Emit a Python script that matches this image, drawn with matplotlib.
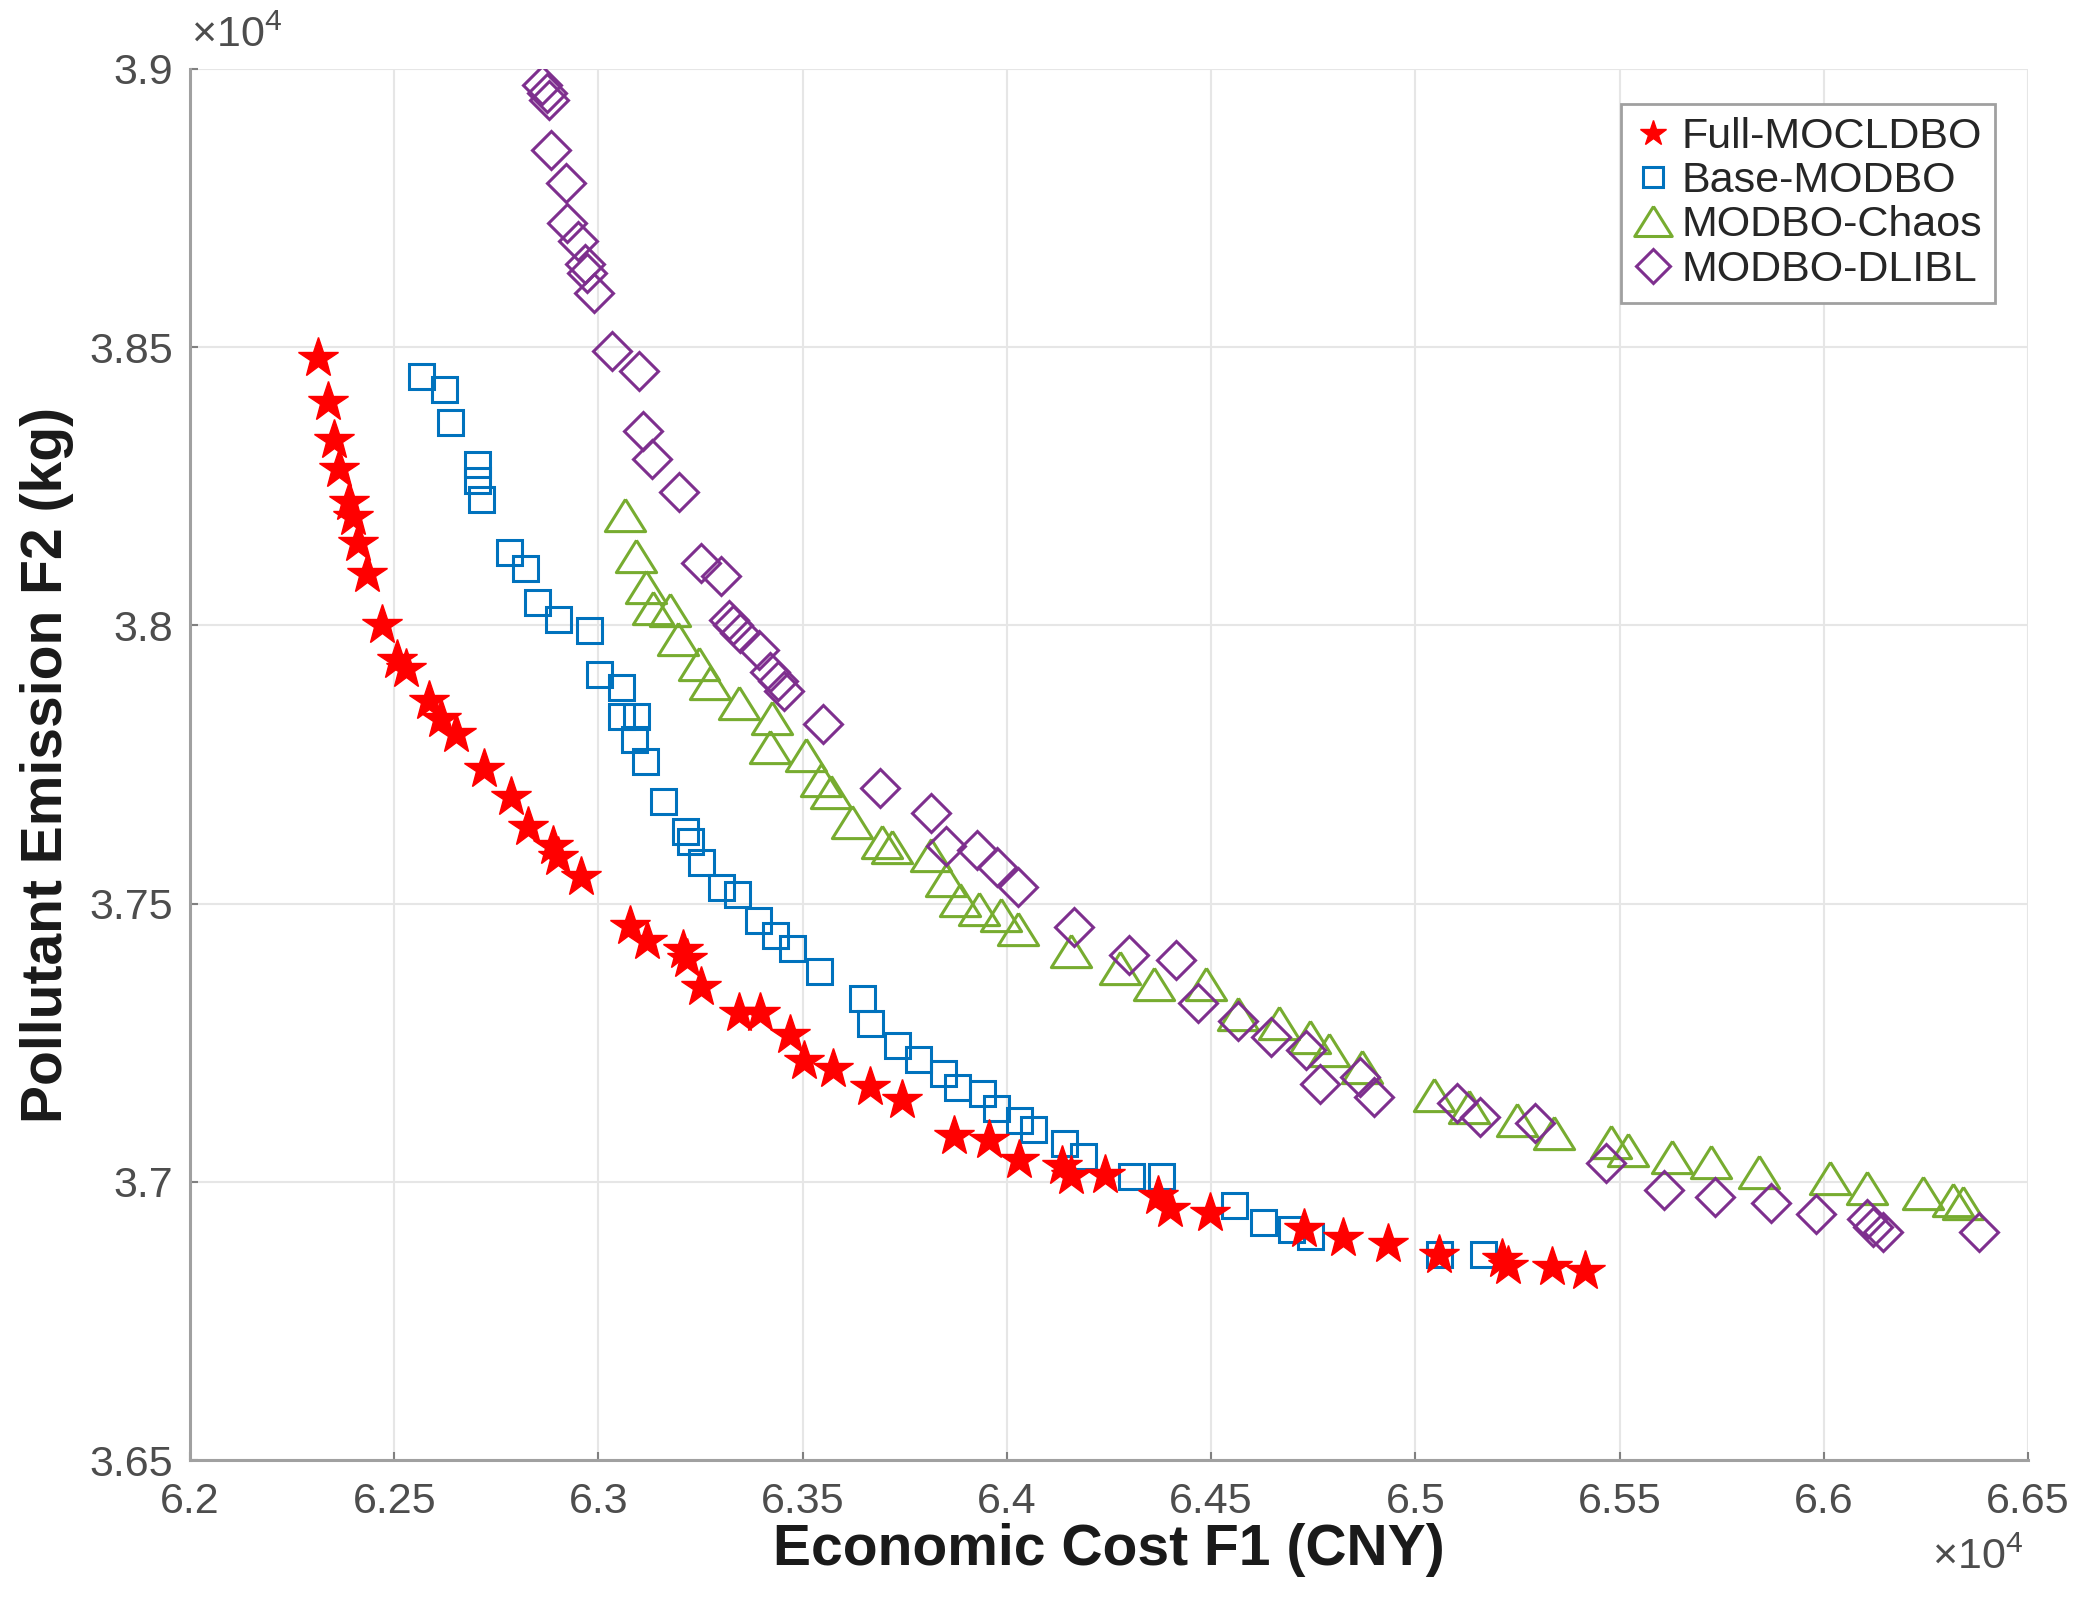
import matplotlib
matplotlib.use("Agg")
import matplotlib.pyplot as plt
from matplotlib.lines import Line2D
from matplotlib.ticker import FixedLocator, FixedFormatter

plt.rcParams["font.family"] = ["Liberation Sans", "DejaVu Sans"]
plt.rcParams["mathtext.fontset"] = "custom"
plt.rcParams["mathtext.rm"] = "Liberation Sans"
plt.rcParams["mathtext.it"] = "Liberation Sans"

# values in units of 1e4 (F1 = CNY, F2 = kg)
full_f1 = [6.2313, 6.2338, 6.2352, 6.2365, 6.2390, 6.2398, 6.2412, 6.2434, 6.2471, 6.2508,
           6.2529, 6.2586, 6.2614, 6.2651, 6.2721, 6.2786, 6.2827, 6.2888, 6.2900, 6.2958,
           6.3078, 6.3120, 6.3208, 6.3216, 6.3250, 6.3343, 6.3396, 6.3470, 6.3504, 6.3574,
           6.3665, 6.3743, 6.3870, 6.3957, 6.4030, 6.4135, 6.4157, 6.4239, 6.4370, 6.4400,
           6.4497, 6.4728, 6.4823, 6.4934, 6.5057, 6.5213, 6.5227, 6.5335, 6.5415]
full_f2 = [3.8481, 3.8401, 3.8333, 3.8281, 3.8222, 3.8195, 3.8148, 3.8092, 3.8000, 3.7937,
           3.7922, 3.7865, 3.7832, 3.7805, 3.7742, 3.7691, 3.7637, 3.7604, 3.7583, 3.7547,
           3.7460, 3.7432, 3.7416, 3.7400, 3.7350, 3.7304, 3.7304, 3.7263, 3.7218, 3.7203,
           3.7171, 3.7147, 3.7082, 3.7076, 3.7040, 3.7028, 3.7011, 3.7012, 3.6974, 3.6951,
           3.6944, 3.6915, 3.6899, 3.6889, 3.6868, 3.6862, 3.6849, 3.6846, 3.6840]

base_f1 = [6.2566, 6.2623, 6.2637, 6.2703, 6.2703, 6.2712, 6.2780, 6.2819, 6.2850, 6.2900,
           6.2978, 6.3002, 6.3056, 6.3056, 6.3092, 6.3088, 6.3113, 6.3158, 6.3211, 6.3223,
           6.3252, 6.3301, 6.3340, 6.3390, 6.3432, 6.3475, 6.3540, 6.3645, 6.3665, 6.3730,
           6.3783, 6.3843, 6.3878, 6.3939, 6.3974, 6.4030, 6.4065, 6.4139, 6.4187, 6.4304,
           6.4378, 6.4557, 6.4628, 6.4695, 6.4742, 6.5057, 6.5166]
base_f2 = [3.8449, 3.8425, 3.8365, 3.8290, 3.8262, 3.8228, 3.8132, 3.8104, 3.8042, 3.8012,
           3.7991, 3.7913, 3.7889, 3.7838, 3.7838, 3.7796, 3.7757, 3.7685, 3.7631, 3.7613,
           3.7574, 3.7529, 3.7517, 3.7470, 3.7443, 3.7420, 3.7378, 3.7330, 3.7286, 3.7245,
           3.7221, 3.7195, 3.7171, 3.7159, 3.7132, 3.7111, 3.7094, 3.7070, 3.7046, 3.7011,
           3.7011, 3.6958, 3.6927, 3.6915, 3.6903, 3.6871, 3.6871]

chaos_f1 = [6.3065, 6.3093, 6.3116, 6.3134, 6.3176, 6.3194, 6.3245, 6.3273, 6.3343, 6.3426,
            6.3421, 6.3509, 6.3546, 6.3569, 6.3620, 6.3694, 6.3718, 6.3815, 6.3852, 6.3884,
            6.3931, 6.3986, 6.4028, 6.4157, 6.4278, 6.4361, 6.4487, 6.4566, 6.4666, 6.4742,
            6.4789, 6.4870, 6.5046, 6.5131, 6.5249, 6.5340, 6.5480, 6.5520, 6.5629, 6.5725,
            6.5841, 6.6015, 6.6105, 6.6242, 6.6317, 6.6342]
chaos_f2 = [3.8198, 3.8125, 3.8069, 3.8031, 3.8028, 3.7976, 3.7931, 3.7896, 3.7861, 3.7833,
            3.7781, 3.7767, 3.7722, 3.7701, 3.7646, 3.7611, 3.7601, 3.7587, 3.7542, 3.7507,
            3.7490, 3.7480, 3.7455, 3.7414, 3.7384, 3.7355, 3.7355, 3.7301, 3.7286, 3.7260,
            3.7236, 3.7206, 3.7156, 3.7135, 3.7111, 3.7087, 3.7072, 3.7057, 3.7045, 3.7036,
            3.7018, 3.7006, 3.6988, 3.6979, 3.6967, 3.6961]

dlibl_f1 = [6.2863, 6.2874, 6.2879, 6.2885, 6.2921, 6.2923, 6.2950, 6.2967, 6.2973, 6.2989,
            6.3033, 6.3100, 6.3110, 6.3130, 6.3198, 6.3252, 6.3300, 6.3320, 6.3330, 6.3347,
            6.3394, 6.3421, 6.3440, 6.3454, 6.3551, 6.3690, 6.3815, 6.3852, 6.3926, 6.3977,
            6.4028, 6.4165, 6.4300, 6.4415, 6.4467, 6.4566, 6.4647, 6.4732, 6.4766, 6.4865,
            6.4898, 6.5102, 6.5159, 6.5292, 6.5468, 6.5610, 6.5733, 6.5870, 6.5982, 6.6105,
            6.6121, 6.6146, 6.6380]
dlibl_f2 = [3.8972, 3.8956, 3.8944, 3.8855, 3.8795, 3.8723, 3.8690, 3.8650, 3.8634, 3.8598,
            3.8494, 3.8457, 3.8350, 3.8299, 3.8240, 3.8112, 3.8088, 3.8010, 3.8000, 3.7986,
            3.7955, 3.7917, 3.7900, 3.7882, 3.7823, 3.7708, 3.7663, 3.7604, 3.7597, 3.7566,
            3.7530, 3.7458, 3.7408, 3.7399, 3.7321, 3.7289, 3.7260, 3.7236, 3.7176, 3.7188,
            3.7153, 3.7141, 3.7117, 3.7105, 3.7034, 3.6986, 3.6973, 3.6961, 3.6943, 3.6934,
            3.6919, 3.6910, 3.6910]

x_ticks = [6.2, 6.25, 6.3, 6.35, 6.4, 6.45, 6.5, 6.55, 6.6, 6.65]
x_tick_labels = ["6.2", "6.25", "6.3", "6.35", "6.4", "6.45", "6.5", "6.55", "6.6", "6.65"]
y_ticks = [3.65, 3.7, 3.75, 3.8, 3.85, 3.9]
y_tick_labels = ["3.65", "3.7", "3.75", "3.8", "3.85", "3.9"]

RED = "#ff0000"
BLUE = "#0072bd"
GREEN = "#77ac30"
PURPLE = "#7e2f8e"
tri = [(0, 1), (-1.25, -1), (1.25, -1), (0, 1)]

W, H = 2085, 1604
fig = plt.figure(figsize=(W / 100, H / 100), dpi=100)
ax = fig.add_axes([190 / W, 1 - 1460 / H, 1838 / W, 1391 / H])

ax.plot(base_f1, base_f2, ls="none", marker="s", ms=18, mfc="none", mec=BLUE, mew=2.2, zorder=3)
ax.plot(chaos_f1, chaos_f2, ls="none", marker=tri, ms=29, mfc="none", mec=GREEN, mew=2.2, zorder=4)
ax.plot(dlibl_f1, dlibl_f2, ls="none", marker="D", ms=19, mfc="none", mec=PURPLE, mew=2.2, zorder=5)
ax.plot(full_f1, full_f2, ls="none", marker="*", ms=30, mfc=RED, mec=RED, mew=1, zorder=6)

ax.set_xlim(6.2, 6.65)
ax.set_ylim(3.65, 3.9)
ax.xaxis.set_major_locator(FixedLocator(x_ticks))
ax.xaxis.set_major_formatter(FixedFormatter(x_tick_labels))
ax.yaxis.set_major_locator(FixedLocator(y_ticks))
ax.yaxis.set_major_formatter(FixedFormatter(y_tick_labels))

ax.grid(True, color="#e6e6e6", lw=1.5, zorder=0)
ax.set_axisbelow(True)
for s in ["top", "right"]:
    ax.spines[s].set_visible(False)
for s in ["left", "bottom"]:
    ax.spines[s].set_color("#a0a0a0")
    ax.spines[s].set_linewidth(2.2)
ax.tick_params(direction="in", length=6, width=1.5, color="#808080",
               labelsize=31, labelcolor="#4d4d4d", pad=12)
ax.tick_params(axis="x", pad=16)

ax.set_xlabel("Economic Cost F1 (CNY)", fontsize=41, fontweight="bold", color="#1a1a1a")
ax.set_ylabel("Pollutant Emission F2 (kg)", fontsize=41, fontweight="bold", color="#1a1a1a")
ax.xaxis.set_label_coords(0.5, -0.045)
ax.yaxis.set_label_coords(-0.063, 0.5)

fig.text(191 / W, 1 - 36 / H, r"$\times10^{4}$", fontsize=31, color="#4d4d4d",
         ha="left", va="center")
fig.text(2023 / W, 1 - 1558 / H, r"$\times10^{4}$", fontsize=31, color="#4d4d4d",
         ha="right", va="center")

handles = [
    Line2D([], [], ls="none", marker="*", ms=19, mfc=RED, mec=RED),
    Line2D([], [], ls="none", marker="s", ms=15, mfc="none", mec=BLUE, mew=2.2),
    Line2D([], [], ls="none", marker=tri, ms=27, mfc="none", mec=GREEN, mew=2.2),
    Line2D([], [], ls="none", marker="D", ms=17, mfc="none", mec=PURPLE, mew=2.2),
]
labels = ["Full-MOCLDBO", "Base-MODBO", "MODBO-Chaos", "MODBO-DLIBL"]
leg = ax.legend(handles, labels, loc="upper right", bbox_to_anchor=(0.982, 0.975),
                borderaxespad=0, fontsize=31, fancybox=False, framealpha=1,
                edgecolor="#a0a0a0", borderpad=0.3, handlelength=0.9,
                handletextpad=0.2, labelspacing=0.1)
leg.get_frame().set_linewidth(2)
for t in leg.get_texts():
    t.set_color("#262626")

fig.savefig("out.png", dpi=100, facecolor="white")
